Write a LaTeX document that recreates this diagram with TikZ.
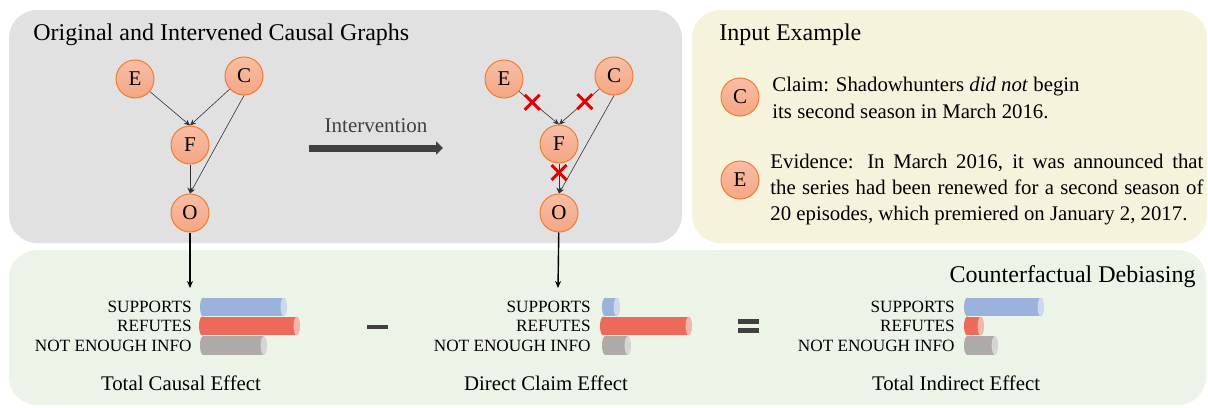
\documentclass[tikz,border=0pt]{standalone}
\usepackage{fontspec}
\setmainfont{Liberation Serif}
\usetikzlibrary{arrows.meta, positioning, shapes.misc}

\definecolor{varline}{RGB}{237,125,49}
\definecolor{vartop}{RGB}{248,190,165}
\definecolor{varbottom}{RGB}{244,166,132}
\definecolor{graphbg}{RGB}{225,225,225}
\definecolor{inputbg}{RGB}{245,243,220}
\definecolor{debiasbg}{RGB}{236,243,231}
\definecolor{supcol}{RGB}{155,178,220}
\definecolor{refcol}{RGB}{237,106,90}
\definecolor{neicol}{RGB}{174,170,170}
\definecolor{darkgray}{RGB}{64,64,64}

% one horizontal bar: name, left x, centre y, body length, colour
\newcommand{\effbar}[5]{%
  \node[barbox, minimum width=#4] (#1) at (#2,#3) {};
  \fill[#5] ([xshift=1.6pt]#1.west) ellipse [x radius=1.6pt, y radius=4.7pt];
  \fill[#5] ([xshift=1.6pt]#1.north west) rectangle (#1.south east);
  \fill[#5!50!white] (#1.east) ellipse [x radius=1.6pt, y radius=4.7pt];
}

\begin{document}
\begin{tikzpicture}[x=0.5pt, y=-0.5pt,
    var/.style={circle, draw=varline, line width=0.5pt, top color=vartop, bottom color=varbottom,
                minimum size=19pt, inner sep=0pt, font=\fontsize{10.5}{11}\selectfont},
    edge/.style={-{Stealth[length=3pt, width=2.6pt]}, line width=0.3pt, black!80},
    cut/.style={cross out, draw=red!90!black, line width=1.5pt, minimum size=6pt, inner sep=0pt},
    panel/.style={rounded corners=14pt},
    heading/.style={anchor=base west, inner sep=0pt, font=\fontsize{12}{14}\selectfont},
    body/.style={inner sep=0pt, font=\fontsize{10.4}{13.2}\selectfont},
    cls/.style={inner sep=0pt, font=\fontsize{8.6}{9}\selectfont},
    effect/.style={anchor=base, inner sep=0pt, font=\fontsize{10.4}{12}\selectfont},
    barbox/.style={anchor=west, minimum height=9.4pt, inner sep=0pt, outer sep=0pt},
    bigarrow/.style={-{Triangle[length=3.5pt, width=6.5pt]}, line width=3.5pt, darkgray},
    down/.style={-{Stealth[length=3.5pt, width=3pt]}, line width=0.7pt},
    opsign/.style={line width=2.4pt, darkgray}
]
    \useasboundingbox (0,0) rectangle (1208,407);

    % panels
    \fill[graphbg, panel] (9,10) rectangle (682,243);
    \fill[inputbg, panel] (692,10) rectangle (1207,243);
    \fill[debiasbg, panel] (9,250) rectangle (1206,405);

    \node[heading] (t-graphs) at (33,40) {Original and Intervened Causal Graphs};
    \node[heading] (t-input) at (719,40) {Input Example};
    \node[heading, anchor=base east] (t-debias) at (1196,282) {Counterfactual Debiasing};

    % original graph
    \node[var] (e1) at (135,79) {E};
    \node[var] (c1) at (244,76) {C};
    \node[var] (f1) at (190,145) {F};
    \node[var] (o1) at (190,213) {O};
    \draw[edge] (e1) -- (f1.north);
    \draw[edge] (c1) -- (f1.north);
    \draw[edge] (c1.south) -- (o1.north);
    \draw[edge] (f1) -- (o1);

    % intervention
    \coordinate (iv-a) at (309,148);
    \coordinate (iv-b) at (443,148);
    \draw[bigarrow] (iv-a) -- node[midway, above=6pt, inner sep=0pt,
        font=\fontsize{10.5}{12}\selectfont] (t-iv) {Intervention} (iv-b);

    % intervened graph
    \node[var] (e2) at (504,79) {E};
    \node[var] (c2) at (614,76) {C};
    \node[var] (f2) at (559,144) {F};
    \node[var] (o2) at (559,213) {O};
    \draw[edge] (e2) -- node[cut, pos=0.33] (x-ef) {} (f2.north);
    \draw[edge] (c2) -- node[cut, pos=0.36] (x-cf) {} (f2.north);
    \draw[edge] (c2.south) -- (o2.north);
    \draw[edge] (f2) -- node[cut, pos=0.3] (x-fo) {} (o2);

    % input example
    \node[var] (c-ex) at (740,97) {C};
    \node[body, anchor=base west, align=left] (claim) at (772,118)
        {Claim: Shadowhunters \textit{did not} begin\\its second season in March 2016.};
    \node[var] (e-ex) at (740,180) {E};
    \node[body, anchor=base west, text width=216.5pt, align=justify] (evid) at (770,168)
        {Evidence: In March 2016, it was announced that\linebreak
         the series had been renewed for a second season of\linebreak
         20 episodes, which premiered on January 2, 2017.};

    % total causal effect
    \coordinate (tce-in) at (190,288);
    \draw[down] (o1) -- (tce-in);
    \effbar{tce-sup}{200}{307}{41.9pt}{supcol}
    \effbar{tce-ref}{199}{326}{48.9pt}{refcol}
    \effbar{tce-nei}{200}{345.5}{31.9pt}{neicol}
    \node[cls, left=4pt of tce-sup] {SUPPORTS};
    \node[cls, left=3.5pt of tce-ref] {REFUTES};
    \node[cls, left=4pt of tce-nei] {NOT ENOUGH INFO};
    \node[effect] (tce) at (181,390) {Total Causal Effect};

    \draw[opsign] (367,327) -- (388,327);

    % direct claim effect
    \coordinate (dce-in) at (558,288);
    \draw[down] (o2) -- (dce-in);
    \effbar{dce-sup}{602}{307}{7.4pt}{supcol}
    \effbar{dce-ref}{600}{326}{44.4pt}{refcol}
    \effbar{dce-nei}{602}{345.5}{12.9pt}{neicol}
    \node[cls, left=5.5pt of dce-sup] {SUPPORTS};
    \node[cls, left=4.5pt of dce-ref] {REFUTES};
    \node[cls, left=5.5pt of dce-nei] {NOT ENOUGH INFO};
    \node[effect] (dce) at (546,390) {Direct Claim Effect};

    \draw[opsign, line width=2.2pt] (738,321.5) -- (759,321.5);
    \draw[opsign, line width=2.2pt] (738,330.5) -- (759,330.5);

    % total indirect effect
    \effbar{tie-sup}{964}{307}{38.4pt}{supcol}
    \effbar{tie-ref}{964}{326}{8.4pt}{refcol}
    \effbar{tie-nei}{964}{345.5}{15.4pt}{neicol}
    \node[cls, left=4.5pt of tie-sup] {SUPPORTS};
    \node[cls, left=4.5pt of tie-ref] {REFUTES};
    \node[cls, left=4.5pt of tie-nei] {NOT ENOUGH INFO};
    \node[effect] (tie) at (956,390) {Total Indirect Effect};
\end{tikzpicture}
\end{document}
